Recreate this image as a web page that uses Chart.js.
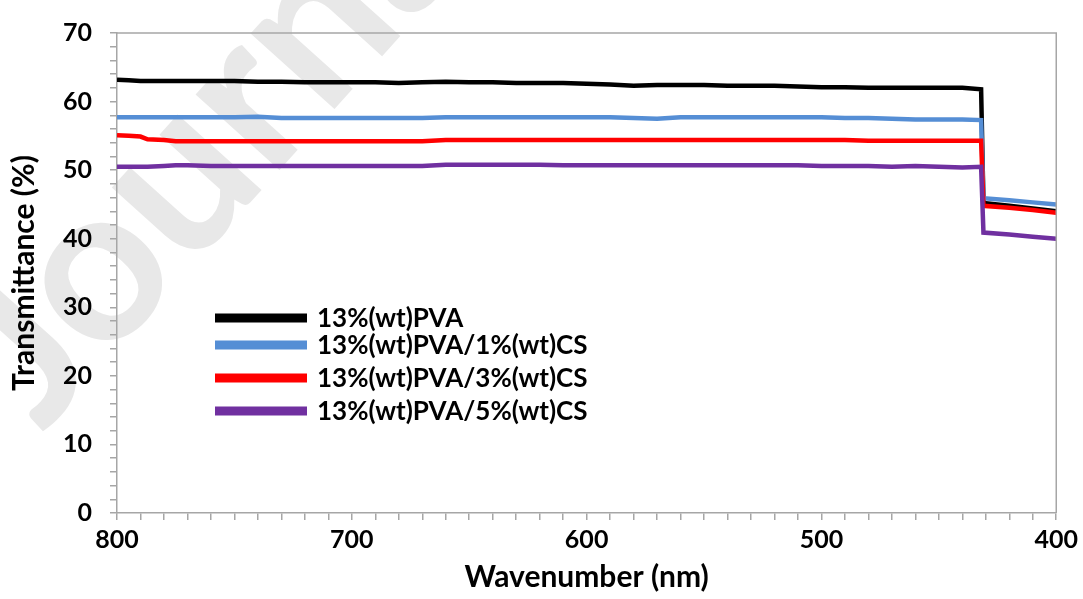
<!DOCTYPE html>
<html lang="en">
<head>
  <meta charset="UTF-8">
  <title>Transmittance</title>
  <script src="https://cdn.jsdelivr.net/npm/chart.js"></script>
  <style>
    html, body {
      margin: 0;
      padding: 0;
      background: #fff;
    }
    #wrap {
      width: 1083px;
      height: 599px;
    }
  </style>
</head>
<body>
  <div id="wrap"><canvas id="chart"></canvas></div>

  <script>
    // wavelength (nm) and transmittance (%)
    const wavelength = [800, 795, 790, 787, 780, 775, 770, 760, 750, 740, 730, 720, 710, 700, 690, 680, 670, 660, 650, 640,
      630, 620, 610, 600, 590, 580, 570, 560, 550, 540, 530, 520, 510, 500, 490, 480, 470, 460, 450, 440, 432, 431, 420, 410, 400];

    const pva = [63.2, 63.1, 63.0, 63.0, 63.0, 63.0, 63.0, 63.0, 63.0, 62.9, 62.9, 62.8, 62.8, 62.8, 62.8, 62.7, 62.8, 62.9, 62.8, 62.8,
      62.7, 62.7, 62.7, 62.6, 62.5, 62.3, 62.4, 62.4, 62.4, 62.3, 62.3, 62.3, 62.2, 62.1, 62.1, 62.0, 62.0, 62.0, 62.0, 62.0, 61.8, 45.2, 44.8, 44.4, 44.0];
    const cs1 = [57.7, 57.7, 57.7, 57.7, 57.7, 57.7, 57.7, 57.7, 57.7, 57.8, 57.6, 57.6, 57.6, 57.6, 57.6, 57.6, 57.6, 57.7, 57.7, 57.7,
      57.7, 57.7, 57.7, 57.7, 57.7, 57.6, 57.5, 57.7, 57.7, 57.7, 57.7, 57.7, 57.7, 57.7, 57.6, 57.6, 57.5, 57.4, 57.4, 57.4, 57.3, 45.9, 45.6, 45.3, 45.0];
    const cs3 = [55.1, 55.0, 54.9, 54.5, 54.4, 54.2, 54.2, 54.2, 54.2, 54.2, 54.2, 54.2, 54.2, 54.2, 54.2, 54.2, 54.2, 54.4, 54.4, 54.4,
      54.4, 54.4, 54.4, 54.4, 54.4, 54.4, 54.4, 54.4, 54.4, 54.4, 54.4, 54.4, 54.4, 54.4, 54.4, 54.3, 54.3, 54.3, 54.3, 54.3, 54.3, 44.8, 44.5, 44.2, 43.8];
    const cs5 = [50.5, 50.5, 50.5, 50.5, 50.6, 50.7, 50.7, 50.6, 50.6, 50.6, 50.6, 50.6, 50.6, 50.6, 50.6, 50.6, 50.6, 50.8, 50.8, 50.8,
      50.8, 50.8, 50.7, 50.7, 50.7, 50.7, 50.7, 50.7, 50.7, 50.7, 50.7, 50.7, 50.7, 50.6, 50.6, 50.6, 50.5, 50.6, 50.5, 50.4, 50.5, 40.9, 40.6, 40.3, 40.0];

    const seriesNames = ['13%(wt)PVA', '13%(wt)PVA/1%(wt)CS', '13%(wt)PVA/3%(wt)CS', '13%(wt)PVA/5%(wt)CS'];
    const seriesColors = ['#000000', '#558ed5', '#ff0000', '#7030a0'];
    const seriesValues = [pva, cs1, cs3, cs5];

    const xTickLabels = [800, 700, 600, 500, 400];
    const yTickLabels = [0, 10, 20, 30, 40, 50, 60, 70];

    const axisGray = '#a6a6a6';
    const font = "Lato, 'Open Sans', sans-serif";

    const datasets = seriesValues.map((vals, i) => ({
      label: seriesNames[i],
      data: wavelength.map((w, j) => ({ x: w, y: vals[j] })),
      borderColor: seriesColors[i],
      backgroundColor: seriesColors[i],
      borderWidth: 4.5,
      pointRadius: 0,
      tension: 0,
      order: seriesValues.length - i
    }));

    // faint journal watermark behind everything, placed by the centre of its "o"
    const watermark = {
      id: 'watermark',
      beforeDraw(chart) {
        const ctx = chart.ctx;
        ctx.save();
        ctx.font = "bold 220px " + font;
        const wJ = ctx.measureText('J').width;
        const mo = ctx.measureText('o');
        const xh = mo.actualBoundingBoxAscent;
        ctx.translate(105, 278);
        ctx.rotate(-48 * Math.PI / 180);
        ctx.fillStyle = '#e8e8e8';
        ctx.textBaseline = 'alphabetic';
        ctx.fillText('Journal Pre-proof', -(wJ + mo.width / 2), xh / 2);
        ctx.restore();
      }
    };

    // top/right frame of the plot area
    const frame = {
      id: 'frame',
      afterDraw(chart) {
        const { ctx, chartArea: a } = chart;
        ctx.save();
        ctx.strokeStyle = axisGray;
        ctx.lineWidth = 1.5;
        ctx.beginPath();
        ctx.moveTo(a.left, a.top);
        ctx.lineTo(a.right, a.top);
        ctx.lineTo(a.right, a.bottom);
        ctx.stroke();
        ctx.restore();
      }
    };

    // legend sits inside the plot, lower left
    const insideLegend = {
      id: 'insideLegend',
      afterDraw(chart) {
        const ctx = chart.ctx;
        const rows = [318, 345, 378, 411];
        ctx.save();
        ctx.font = "bold 26px " + font;
        ctx.textBaseline = 'middle';
        chart.data.datasets.forEach((ds, i) => {
          ctx.fillStyle = ds.borderColor;
          ctx.fillRect(215, rows[i] - 4.5, 92, 9);
          ctx.fillStyle = '#000';
          ctx.fillText(ds.label, 317, rows[i] + 1);
        });
        ctx.restore();
      }
    };

    new Chart(document.getElementById('chart'), {
      type: 'line',
      data: { datasets },
      plugins: [watermark, frame, insideLegend],
      options: {
        responsive: true,
        maintainAspectRatio: false,
        animation: false,
        layout: { padding: { top: 22, right: 26, left: 0, bottom: 0 } },
        plugins: {
          legend: { display: false },
          tooltip: { enabled: false }
        },
        scales: {
          x: {
            type: 'linear',
            reverse: true,
            min: 400,
            max: 800,
            afterFit(s) { s.height = 86; },
            border: { color: axisGray, width: 1.5 },
            grid: { display: true, drawOnChartArea: false, drawTicks: true, tickLength: 7, color: axisGray, lineWidth: 1.5 },
            ticks: {
              stepSize: 10,
              autoSkip: false,
              maxRotation: 0,
              padding: 5,
              color: '#000',
              font: { family: font, size: 25, weight: 'bold' },
              callback: v => xTickLabels.includes(v) ? String(v) : ''
            },
            title: {
              display: true,
              text: 'Wavenumber (nm)',
              color: '#000',
              font: { family: font, size: 30, weight: 'bold' },
              padding: { top: 0 }
            }
          },
          y: {
            min: 0,
            max: 70,
            afterFit(s) { s.width = 117; },
            border: { color: axisGray, width: 1.5 },
            grid: { display: true, drawOnChartArea: false, drawTicks: true, tickLength: 7, color: axisGray, lineWidth: 1.5 },
            ticks: {
              stepSize: 2,
              autoSkip: false,
              padding: 18,
              color: '#000',
              font: { family: font, size: 25, weight: 'bold' },
              callback: v => yTickLabels.includes(v) ? String(v) : ''
            },
            title: {
              display: true,
              text: 'Transmittance (%)',
              color: '#000',
              font: { family: font, size: 30, weight: 'bold' },
              padding: { top: 6, bottom: 0 }
            }
          }
        }
      }
    });
  </script>
</body>
</html>
